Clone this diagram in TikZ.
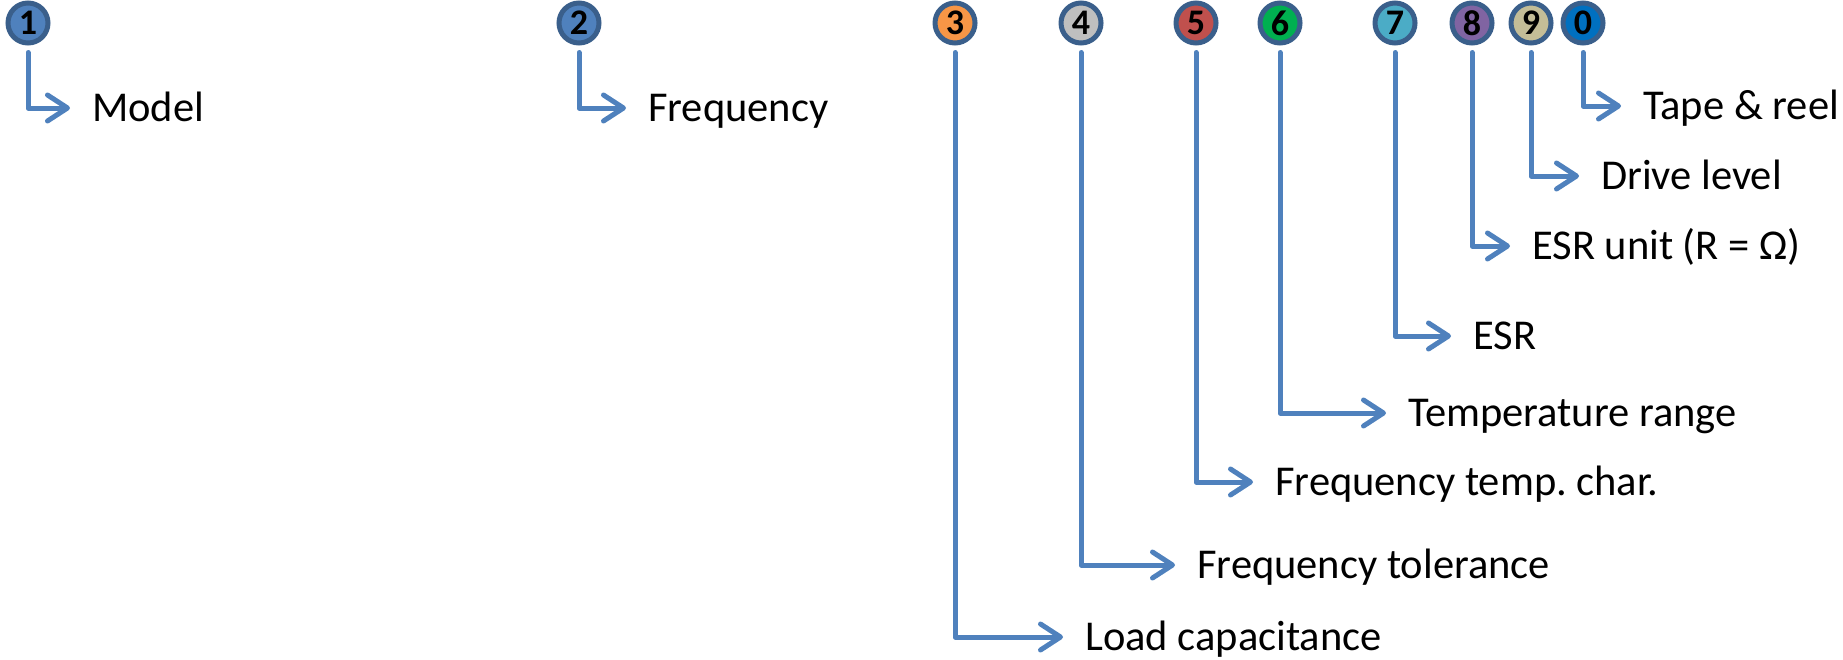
\documentclass[tikz,border=0pt]{standalone}
\usepackage{fontspec}
\setmainfont{Carlito}
\usetikzlibrary{arrows.meta}
\frenchspacing
\definecolor{lineblue}{HTML}{4F81BD}
\definecolor{ringblue}{HTML}{3A5F8B}
\definecolor{cA}{HTML}{4F81BD}
\definecolor{cB}{HTML}{4F81BD}
\definecolor{cC}{HTML}{F79646}
\definecolor{cD}{HTML}{BFBFBF}
\definecolor{cE}{HTML}{C0504D}
\definecolor{cF}{HTML}{00B050}
\definecolor{cG}{HTML}{4BACC6}
\definecolor{cH}{HTML}{8064A2}
\definecolor{cI}{HTML}{C4BD97}
\definecolor{cJ}{HTML}{0070C0}
\tikzset{
  badge/.style={circle, draw=ringblue, line width=5pt, minimum size=40pt, inner sep=0pt,
    font=\fontsize{36}{38}\selectfont\bfseries, text=black},
  label/.style={anchor=west, inner sep=0pt, text height=27pt, text depth=0pt,
    font=\fontsize{42.5}{50}\selectfont, text=black},
  conn/.style={draw=lineblue, line width=5pt, line cap=round, line join=round,
    -{Straight Barb[length=20pt,width=26pt,line cap=round,line join=round]},
    shorten <=7pt, shorten >=22pt}
}
\begin{document}
\begin{tikzpicture}[x=1pt,y=-1pt]
\useasboundingbox (0,0) rectangle (1843,659);
% badges
\node[badge, fill=cA] (c1) at (28,23) {1};
\node[badge, fill=cB] (c2) at (579,23) {2};
\node[badge, fill=cC] (c3) at (955,23) {3};
\node[badge, fill=cD] (c4) at (1081,23) {4};
\node[badge, fill=cE] (c5) at (1196,23) {5};
\node[badge, fill=cF] (c6) at (1280,23) {6};
\node[badge, fill=cG] (c7) at (1395,23) {7};
\node[badge, fill=cH] (c8) at (1472,23) {8};
\node[badge, fill=cI] (c9) at (1531,23) {9};
\node[badge, fill=cJ] (c0) at (1583,23) {0};
% labels
\node[label] (t1) at (92,108) {Model};
\node[label] (t2) at (648,108) {Frequency};
\node[label] (t3) at (1085,637) {Load capacitance};
\node[label] (t4) at (1197,565) {Frequency tolerance};
\node[label] (t5) at (1275,482) {Frequency temp. char.};
\node[label] (t6) at (1408,413) {Temperature range};
\node[label] (t7) at (1473,336) {ESR};
\node[label] (t8) at (1532,246) {ESR unit (R = Ω)};
\node[label] (t9) at (1601,176) {Drive level};
\node[label] (t0) at (1643,106) {Tape \& reel};
% connectors
\foreach \i in {1,2,3,4,5,6,7,8,9,0}{
  \draw[conn] (c\i) |- (t\i.west);
}
\end{tikzpicture}
\end{document}
